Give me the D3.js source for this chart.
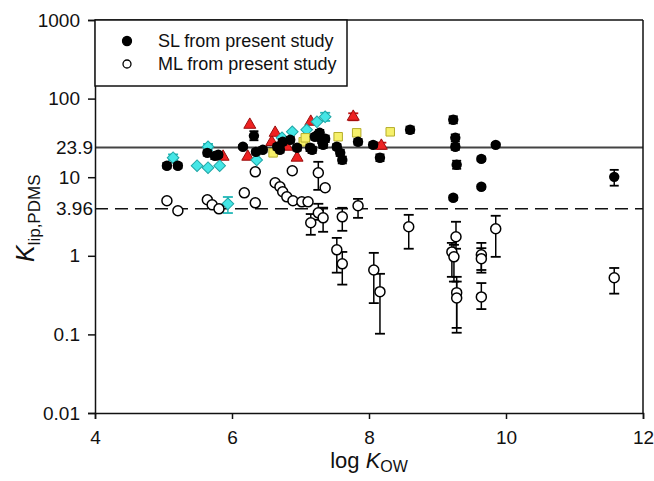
<!DOCTYPE html>
<html>
<head>
<meta charset="utf-8">
<script src="https://cdnjs.cloudflare.com/ajax/libs/d3/7.8.5/d3.min.js"></script>
<style>
  body { margin: 0; background: #fff; }
  svg text { font-family: Arial, "Liberation Sans", sans-serif; fill: #111; }
</style>
</head>
<body>
<svg id="chart"></svg>
<script>
// data: [log Kow, K lip,PDMS, lower, upper]
const slPoints = [
  [5.05, 14.0, 13.0, 15.2], [5.21, 14.0, 13.0, 15.0], [5.64, 20.4, 18.8, 22.0],
  [5.75, 18.7, 17.0, 20.3], [5.80, 19.3, 18.0, 20.6], [6.16, 24.4, 23.0, 25.8],
  [6.32, 33.6, 29.5, 38.5], [6.35, 21.0, 19.5, 22.6], [6.45, 22.3, 20.8, 24.0],
  [6.66, 24.4, 22.5, 26.4], [6.70, 22.3, 20.6, 24.0], [6.74, 28.2, 26.0, 30.5],
  [6.85, 29.9, 27.5, 32.4], [6.95, 23.7, 21.8, 25.6], [7.14, 23.7, 21.5, 26.0],
  [7.17, 22.3, 20.3, 24.4], [7.21, 32.7, 30.0, 35.5], [7.26, 34.6, 31.5, 38.0],
  [7.28, 36.7, 33.5, 40.0], [7.31, 29.9, 27.0, 33.0], [7.33, 25.8, 23.5, 28.2],
  [7.36, 30.8, 28.0, 33.8], [7.53, 24.4, 22.5, 26.4], [7.58, 20.4, 18.6, 22.3],
  [7.61, 16.6, 15.0, 18.3], [7.84, 28.2, 26.0, 30.5], [8.06, 25.8, 24.0, 27.8],
  [8.16, 17.7, 16.0, 19.5], [8.60, 40.1, 36.5, 44.0], [9.23, 53.8, 48.5, 59.5],
  [9.26, 31.7, 28.5, 35.0], [9.26, 24.4, 22.3, 26.6], [9.28, 14.4, 12.8, 16.2],
  [9.23, 5.47, 5.1, 5.85], [9.64, 17.1, 16.0, 18.3], [9.64, 7.55, 7.1, 8.0],
  [9.85, 25.8, 24.5, 27.2], [11.58, 10.1, 7.8, 12.4]
];

const mlPoints = [
  [5.05, 5.01, null, null], [5.21, 3.74, null, null], [5.64, 5.16, null, null],
  [5.71, 4.45, null, null], [5.81, 3.96, null, null], [6.18, 6.33, null, null],
  [6.34, 4.72, null, null], [6.34, 11.7, null, null], [6.63, 8.49, null, null],
  [6.70, 7.55, null, null], [6.74, 6.52, null, null], [6.80, 5.63, null, null],
  [6.88, 12.1, null, null], [6.89, 5.01, null, null], [7.02, 4.86, null, null],
  [7.11, 4.86, null, null], [7.26, 11.4, 6.9, 15.7], [7.36, 7.33, null, null],
  [7.26, 3.52, 2.87, 4.59], [7.33, 3.04, 2.02, 4.1], [7.15, 2.63, 1.85, 3.4],
  [7.61, 3.13, 2.08, 4.08], [7.84, 4.33, 3.04, 5.3], [7.53, 1.19, 0.61, 1.69],
  [7.61, 0.79, 0.43, 1.12], [8.07, 0.66, 0.25, 1.09], [8.16, 0.35, 0.102, 0.59],
  [8.58, 2.34, 1.23, 3.32], [9.27, 1.75, 1.23, 2.71], [9.21, 1.12, 0.54, 1.46],
  [9.24, 0.97, 0.47, 1.38], [9.28, 0.34, 0.121, 0.54], [9.28, 0.29, 0.105, 0.47],
  [9.64, 1.03, 0.66, 1.46], [9.64, 0.92, 0.61, 1.25], [9.64, 0.30, 0.21, 0.45],
  [9.85, 2.21, 0.97, 3.23], [11.58, 0.525, 0.33, 0.70]
];

const redPoints = [
  [5.87, 18.2, null, null], [6.26, 46.4, null, null], [6.23, 18.2, null, null],
  [6.58, 28.0, null, null], [6.63, 36.7, null, null], [6.80, 24.4, null, null],
  [6.95, 17.7, null, null], [7.15, 50.7, null, null], [7.77, 58.7, 53, 65],
  [8.18, 25.1, 23, 27.5]
];

const cyanPoints = [
  [5.14, 17.7, 16.5, 19.5], [5.49, 14.0, null, null], [5.65, 13.2, null, null],
  [5.82, 14.0, null, null], [5.65, 24.4, 22, 26.5], [5.94, 4.59, 3.5, 5.6],
  [6.36, 16.6, null, null], [6.73, 31.7, null, null], [6.88, 37.8, null, null],
  [7.09, 40.1, null, null], [7.24, 50.7, null, null], [7.36, 58.7, 52, 66]
];

const yellowPoints = [
  [6.60, 20.4], [7.04, 28.2], [7.07, 31.7], [7.55, 32.7], [7.82, 36.7], [8.31, 37.8]
];

const xTicks = [4, 6, 8, 10, 12];
const yTicks = [0.01, 0.1, 1, 10, 100, 1000];
const refSolid = 23.9;
const refDashed = 3.96;
const legendLabels = ["SL from present study", "ML from present study"];

const W = 654, H = 481;
const margin = { top: 20, right: 11, bottom: 68, left: 95 };
const width = W - margin.left - margin.right,
      height = H - margin.top - margin.bottom;

const svg = d3.select("#chart").attr("width", W).attr("height", H);
const g = svg.append("g").attr("transform", `translate(${margin.left},${margin.top})`);

const x = d3.scaleLinear().domain([4, 12]).range([0, width]);
const y = d3.scaleLog().domain([0.01, 1000]).range([height, 0]);

// reference lines
g.append("line")
  .attr("x1", 0).attr("x2", width)
  .attr("y1", y(refSolid)).attr("y2", y(refSolid))
  .attr("stroke", "#444").attr("stroke-width", 2);
g.append("line")
  .attr("x1", 0).attr("x2", width)
  .attr("y1", y(refDashed)).attr("y2", y(refDashed))
  .attr("stroke", "#111").attr("stroke-width", 1.6)
  .attr("stroke-dasharray", "13,7");

// axes
const xAxis = g.append("g").attr("transform", `translate(0,${height})`)
  .call(d3.axisBottom(x).tickValues(xTicks).tickSize(6).tickPadding(12).tickFormat(d3.format("d")));
const yAxis = g.append("g")
  .call(d3.axisLeft(y).tickValues(yTicks).tickSize(7).tickPadding(8).tickFormat(d => String(d)));
[xAxis, yAxis].forEach(a => {
  a.selectAll("path, line").attr("stroke", "#111").attr("stroke-width", 1.5);
  a.selectAll("text").style("font-size", "19px").attr("fill", "#111");
});

// frame top/right
g.append("line").attr("x1", 0).attr("x2", width).attr("y1", 0).attr("y2", 0)
  .attr("stroke", "#111").attr("stroke-width", 1.5);
g.append("line").attr("x1", width).attr("x2", width).attr("y1", 0).attr("y2", height)
  .attr("stroke", "#111").attr("stroke-width", 1.5);

// reference labels at the axis
[refSolid, refDashed].forEach(v => {
  g.append("text")
    .attr("x", -2).attr("y", y(v)).attr("dy", "0.35em")
    .attr("text-anchor", "end")
    .style("font-size", "19px")
    .text(String(v));
});

// error bars helper
function errorBars(sel, data, color, cap) {
  const eb = sel.append("g");
  const rows = data.filter(d => d[2] != null);
  eb.selectAll("line.v").data(rows).enter().append("line")
    .attr("x1", d => x(d[0])).attr("x2", d => x(d[0]))
    .attr("y1", d => y(d[2])).attr("y2", d => y(d[3]))
    .attr("stroke", color).attr("stroke-width", 1.5);
  eb.selectAll("line.lo").data(rows).enter().append("line")
    .attr("x1", d => x(d[0]) - cap).attr("x2", d => x(d[0]) + cap)
    .attr("y1", d => y(d[2])).attr("y2", d => y(d[2]))
    .attr("stroke", color).attr("stroke-width", 1.8);
  eb.selectAll("line.hi").data(rows).enter().append("line")
    .attr("x1", d => x(d[0]) - cap).attr("x2", d => x(d[0]) + cap)
    .attr("y1", d => y(d[3])).attr("y2", d => y(d[3]))
    .attr("stroke", color).attr("stroke-width", 1.8);
}

const plot = g.append("g");

// red triangles
errorBars(plot, redPoints, "#c01010", 5);
plot.selectAll("path.red").data(redPoints).enter().append("path")
  .attr("transform", d => `translate(${x(d[0])},${y(d[1])})`)
  .attr("d", d3.symbol().type(d3.symbolTriangle).size(62))
  .attr("fill", "#ee2222").attr("stroke", "#9a0c0c").attr("stroke-width", 1);

// cyan diamonds
errorBars(plot, cyanPoints, "#22b8b8", 5);
plot.selectAll("path.cyan").data(cyanPoints).enter().append("path")
  .attr("transform", d => `translate(${x(d[0])},${y(d[1])}) rotate(45)`)
  .attr("d", d3.symbol().type(d3.symbolSquare).size(68))
  .attr("fill", "#44e6e6").attr("stroke", "#1fa5a5").attr("stroke-width", 1);

// yellow squares
plot.selectAll("path.yel").data(yellowPoints).enter().append("path")
  .attr("transform", d => `translate(${x(d[0])},${y(d[1])})`)
  .attr("d", d3.symbol().type(d3.symbolSquare).size(72))
  .attr("fill", "#f6f06a").attr("stroke", "#b5ad2a").attr("stroke-width", 1);

// SL filled circles
errorBars(plot, slPoints, "#000", 4.5);
plot.selectAll("circle.sl").data(slPoints).enter().append("circle")
  .attr("cx", d => x(d[0])).attr("cy", d => y(d[1])).attr("r", 5.2)
  .attr("fill", "#000");

// ML open circles
errorBars(plot, mlPoints, "#000", 5);
plot.selectAll("circle.ml").data(mlPoints).enter().append("circle")
  .attr("cx", d => x(d[0])).attr("cy", d => y(d[1])).attr("r", 5)
  .attr("fill", "#fff").attr("stroke", "#000").attr("stroke-width", 1.5);

// legend
const legend = g.append("g");
legend.append("rect")
  .attr("x", 0).attr("y", 0).attr("width", 252).attr("height", 66)
  .attr("fill", "#fff").attr("stroke", "#111").attr("stroke-width", 1.5);
legendLabels.forEach((lab, i) => {
  const row = legend.append("g").attr("transform", `translate(0,${21 + i * 23})`);
  row.append("circle").attr("cx", 32).attr("cy", 0).attr("r", i === 0 ? 4.5 : 4)
    .attr("fill", i === 0 ? "#000" : "#fff").attr("stroke", "#000").attr("stroke-width", 1.3);
  row.append("text").attr("x", 63).attr("y", 0).attr("dy", "0.35em")
    .style("font-size", "18px").text(lab);
});

// axis titles
const xt = svg.append("text").attr("x", margin.left + width / 2).attr("y", 468)
  .attr("text-anchor", "middle").style("font-size", "22px");
xt.append("tspan").text("log ");
xt.append("tspan").style("font-style", "italic").text("K");
xt.append("tspan").attr("dy", 4).style("font-size", "16px").text("OW");

const yt = svg.append("text")
  .attr("transform", `translate(34,${margin.top + y(3)}) rotate(-90)`)
  .attr("text-anchor", "middle").style("font-size", "25px");
yt.append("tspan").style("font-style", "italic").text("K");
yt.append("tspan").attr("dy", 6).style("font-size", "17px").text("lip,PDMS");
</script>
</body>
</html>
